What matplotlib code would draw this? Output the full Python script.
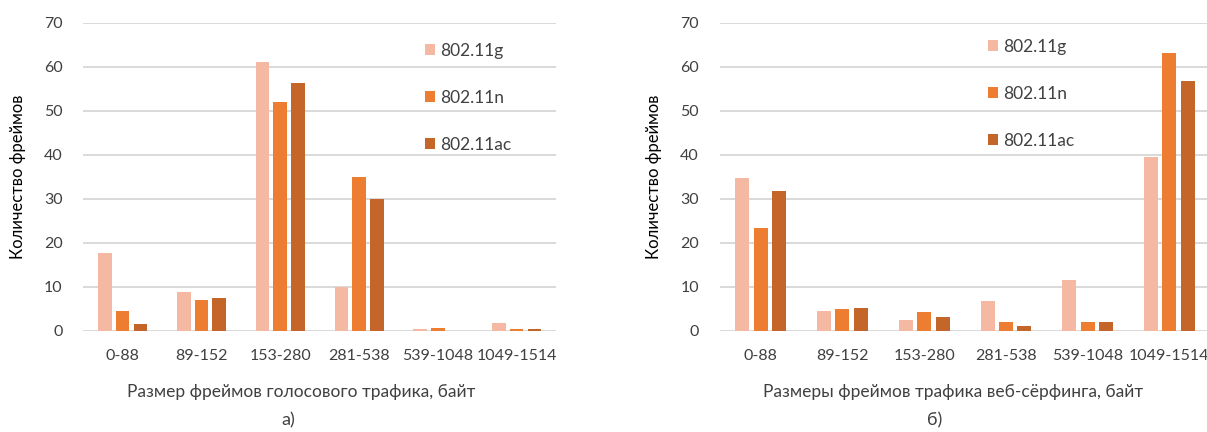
import numpy as np
import matplotlib
matplotlib.use("Agg")
import matplotlib.pyplot as plt
from matplotlib.patches import Patch

plt.rcParams["font.family"] = ["Lato", "DejaVu Sans"]

categories = ["0-88", "89-152", "153-280", "281-538", "539-1048", "1049-1514"]
series = ["802.11g", "802.11n", "802.11ac"]

voice_g = [17.6, 8.8, 61.0, 9.9, 0.3, 1.7]
voice_n = [4.4, 7.0, 52.0, 35.0, 0.6, 0.4]
voice_ac = [1.5, 7.5, 56.2, 29.8, 0.0, 0.4]

web_g = [34.6, 4.5, 2.3, 6.7, 11.4, 39.4]
web_n = [23.4, 4.8, 4.1, 1.9, 1.9, 63.0]
web_ac = [31.6, 5.2, 3.0, 1.0, 1.9, 56.6]

colors = ["#F4B8A3", "#ED7D31", "#C4662A"]
W, H = 1207, 432
text_col = "#404040"


def px_axes(fig, x0, x1, y_top, y_bot):
    return fig.add_axes([x0 / W, 1 - y_bot / H, (x1 - x0) / W, (y_bot - y_top) / H])


def draw_panel(ax, data, leg_xy):
    x = np.arange(len(categories))
    step = 0.225
    width = 0.172
    for i, (vals, c, name) in enumerate(zip(data, colors, series)):
        ax.bar(x + (i - 1) * step, vals, width=width, color=c, label=name,
               zorder=3, linewidth=0)
    ax.set_xlim(-0.5, len(categories) - 0.5)
    ax.set_ylim(0, 70)
    ax.set_yticks(range(0, 71, 10))
    ax.set_xticks(x)
    ax.set_xticklabels(categories)
    ax.yaxis.grid(True, color="#D9D9D9", linewidth=1.4, zorder=0)
    ax.set_axisbelow(True)
    for s in ax.spines.values():
        s.set_visible(False)
    ax.tick_params(axis="both", length=0, labelsize=11.5, labelcolor=text_col)
    ax.tick_params(axis="x", pad=13)
    ax.tick_params(axis="y", pad=15)
    ax.set_ylabel("Количество фреймов", fontsize=12, color="black", labelpad=13)
    handles = [Patch(facecolor=c, edgecolor="none") for c in colors]
    ax.legend(handles, series, loc="upper left",
              bbox_to_anchor=(leg_xy[0] / W, 1 - leg_xy[1] / H),
              bbox_transform=ax.figure.transFigure, frameon=False,
              fontsize=12.5, labelspacing=1.78, handlelength=0.6,
              handleheight=0.6, handletextpad=0.25, borderpad=0,
              borderaxespad=0, labelcolor=text_col)


fig = plt.figure(figsize=(W / 100, H / 100), dpi=100, facecolor="white")

ax_voice = px_axes(fig, 83.3, 556, 22.5, 330.5)
draw_panel(ax_voice, [voice_g, voice_n, voice_ac], (425, 43))
fig.text(301 / W, 1 - 392 / H, "Размер фреймов голосового трафика, байт",
         ha="center", va="center", fontsize=12.5, color=text_col)
fig.text(288 / W, 1 - 420 / H, "а)", ha="center", va="center",
         fontsize=13, color=text_col)

ax_web = px_axes(fig, 719.8, 1210.3, 22.5, 330.5)
draw_panel(ax_web, [web_g, web_n, web_ac], (988, 39))
fig.text(953 / W, 1 - 392 / H, "Размеры фреймов трафика веб-сёрфинга, байт",
         ha="center", va="center", fontsize=12.5, color=text_col)
fig.text(935 / W, 1 - 420 / H, "б)", ha="center", va="center",
         fontsize=13, color=text_col)

fig.savefig("out.png", dpi=100)
